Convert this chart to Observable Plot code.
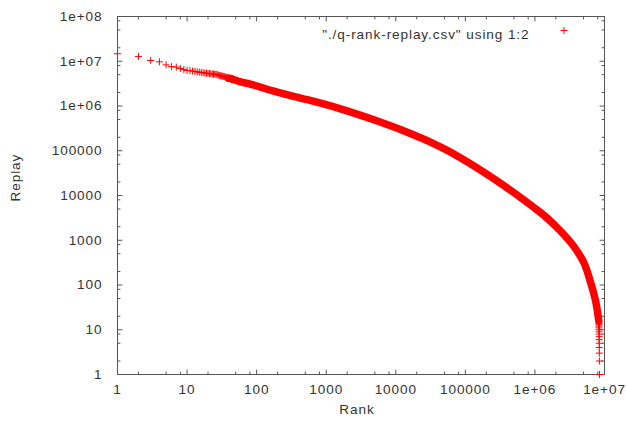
<!DOCTYPE html>
<html>
<head>
<meta charset="utf-8">
<script src="https://cdn.jsdelivr.net/npm/d3@7"></script>
<script src="https://cdn.jsdelivr.net/npm/@observablehq/plot@0.6"></script>
<style>
  body { margin: 0; background: #fff; }
  svg text { letter-spacing: 0.9px; }
</style>
</head>
<body>
<div id="chart"></div>
<script>
// Highest-ranked items, each drawn as its own "+" point
const topRanks = [1, 2, 3, 4, 5, 6, 7, 8, 9, 10,
  11, 12, 13, 14, 15, 16, 17, 18, 19, 20,
  21, 22, 23, 24, 25, 26, 27, 28, 29, 30,
  31, 32, 33, 34, 35, 36, 37, 38, 39, 40];
const topReplay = [1.47e7, 1.28e7, 1.04e7, 9.7e6, 8.3e6, 7.6e6, 7.4e6, 6.9e6, 6.5e6, 6.2e6,
  6.15e6, 6.05e6, 5.9e6, 5.8e6, 5.69e6, 5.61e6, 5.52e6, 5.46e6, 5.4e6, 5.35e6,
  5.3e6, 5.24e6, 5.19e6, 5.16e6, 5.14e6, 5.11e6, 5.06e6, 4.93e6, 4.81e6, 4.73e6,
  4.7e6, 4.65e6, 4.6e6, 4.55e6, 4.5e6, 4.35e6, 4.3e6, 4.25e6, 4.2e6, 4.15e6];

// Body of the distribution: points so dense they merge into one band
const bodyRanks = [40, 42, 59, 81, 176, 426, 533, 1604, 4831, 14590, 29850, 68230,
  206000, 620900, 1.2e6, 1.5e6, 2.33e6, 3.62e6, 5.04e6, 6.3e6, 7.43e6, 8.02e6, 8.28e6];
const bodyReplay = [4.15e6, 4.12e6, 3.44e6, 3.1e6, 2.14e6, 1.5e6, 1.38e6, 8.65e5, 4.92e5, 2.6e5, 1.62e5, 8.5e4,
  2.97e4, 9040, 4170, 3120, 1610, 730, 318, 116, 45, 22.7, 16];

// Tail: the smallest replay counts, stacked near the last rank
const tailRanks = [8.30e6, 8.31e6, 8.32e6, 8.33e6, 8.34e6, 8.35e6, 8.36e6, 8.37e6,
  8.38e6, 8.39e6, 8.40e6, 8.41e6, 8.42e6, 8.44e6, 8.46e6];
const tailReplay = [15, 14, 13, 12, 11, 10, 9, 8, 7, 6, 5, 4, 3, 2, 1];

// Axis ticks
const xTicks = [1, 10, 100, 1000, 1e4, 1e5, 1e6, 1e7];
const xTickLabels = ["1", "10", "100", "1000", "10000", "100000", "1e+06", "1e+07"];
const xMinorTicks = [2, 5, 8, 20, 50, 80, 200, 500, 800, 2e3, 5e3, 8e3,
  2e4, 5e4, 8e4, 2e5, 5e5, 8e5, 2e6, 5e6, 8e6];
const yTicks = [1, 10, 100, 1000, 1e4, 1e5, 1e6, 1e7, 1e8];
const yTickLabels = ["1", "10", "100", "1000", "10000", "100000", "1e+06", "1e+07", "1e+08"];
const yMinorTicks = [2, 5, 8, 20, 50, 80, 200, 500, 800, 2e3, 5e3, 8e3,
  2e4, 5e4, 8e4, 2e5, 5e5, 8e5, 2e6, 5e6, 8e6, 2e7, 5e7, 8e7];

const seriesLabel = '"./q-rank-replay.csv" using 1:2';

const toRows = (xs, ys) => xs.map((x, i) => ({rank: x, replay: ys[i]}));
const topPts = toRows(topRanks, topReplay);
const bodyPts = toRows(bodyRanks, bodyReplay);
const tailPts = toRows(tailRanks, tailReplay);
const xTickRows = xTicks.map((v, i) => ({v, label: xTickLabels[i]}));
const yTickRows = yTicks.map((v, i) => ({v, label: yTickLabels[i]}));

// Thin "+" point symbol (stroked, like gnuplot's point type 1)
const plus = {
  draw(ctx, size) {
    const r = Math.sqrt(size / Math.PI);
    ctx.moveTo(-r, 0); ctx.lineTo(r, 0);
    ctx.moveTo(0, -r); ctx.lineTo(0, r);
  }
};

// Inward tick shapes for the frame
const tickUp = {draw(c, l) { c.moveTo(0, 0); c.lineTo(0, -l); }};
const tickDown = {draw(c, l) { c.moveTo(0, 0); c.lineTo(0, l); }};
const tickRight = {draw(c, l) { c.moveTo(0, 0); c.lineTo(l, 0); }};
const tickLeft = {draw(c, l) { c.moveTo(0, 0); c.lineTo(-l, 0); }};

const frameColor = "#555";
const textColor = "#333";
const red = "#ff0000";
const MAJ = 4.5, MIN = 2.5;

function ticksX(values, len) {
  return [
    Plot.vector(values, {x: d => d, frameAnchor: "bottom", length: len, anchor: "start", shape: tickUp, stroke: frameColor, strokeWidth: 1}),
    Plot.vector(values, {x: d => d, frameAnchor: "top", length: len, anchor: "start", shape: tickDown, stroke: frameColor, strokeWidth: 1})
  ];
}
function ticksY(values, len) {
  return [
    Plot.vector(values, {y: d => d, frameAnchor: "left", length: len, anchor: "start", shape: tickRight, stroke: frameColor, strokeWidth: 1}),
    Plot.vector(values, {y: d => d, frameAnchor: "right", length: len, anchor: "start", shape: tickLeft, stroke: frameColor, strokeWidth: 1})
  ];
}

const chart = Plot.plot({
  width: 626,
  height: 427,
  marginLeft: 117,
  marginRight: 22,
  marginTop: 16,
  marginBottom: 53,
  style: {fontFamily: "'Liberation Sans', Arial, sans-serif", fontSize: "13.6px", background: "#fff", color: textColor},
  x: {type: "log", domain: [1, 1e7], axis: null},
  y: {type: "log", domain: [1, 1e8], axis: null},
  marks: [
    Plot.frame({stroke: frameColor, strokeWidth: 1}),
    ...ticksX(xTicks, MAJ),
    ...ticksX(xMinorTicks, MIN),
    ...ticksY(yTicks, MAJ),
    ...ticksY(yMinorTicks, MIN),
    // tick labels
    Plot.text(xTickRows, {x: "v", text: "label", frameAnchor: "bottom", dy: 19, fill: textColor}),
    Plot.text(yTickRows, {y: "v", text: "label", frameAnchor: "left", dx: -15, textAnchor: "end", fill: textColor}),
    // axis titles
    Plot.text(["Rank"], {frameAnchor: "bottom", dx: -4, dy: 39, fill: textColor}),
    Plot.text(["Replay"], {frameAnchor: "left", dx: -102, dy: 6, rotate: -90, fill: textColor}),
    // key
    Plot.text([seriesLabel], {frameAnchor: "top-right", dx: -75, dy: 12.5, textAnchor: "end", fill: textColor}),
    Plot.dot([0], {frameAnchor: "top-right", dx: -40.5, dy: 14, symbol: plus, r: 3.5, stroke: red, strokeWidth: 1, fill: "none"}),
    // data
    Plot.line(bodyPts, {x: "rank", y: "replay", stroke: red, strokeWidth: 7.5, curve: "catmull-rom"}),
    Plot.dot(topPts, {x: "rank", y: "replay", symbol: plus, r: 3.5, stroke: red, strokeWidth: 1, fill: "none"}),
    Plot.dot(tailPts, {x: "rank", y: "replay", symbol: plus, r: 3.5, stroke: red, strokeWidth: 1, fill: "none"})
  ]
});
document.getElementById("chart").append(chart);
</script>
</body>
</html>
